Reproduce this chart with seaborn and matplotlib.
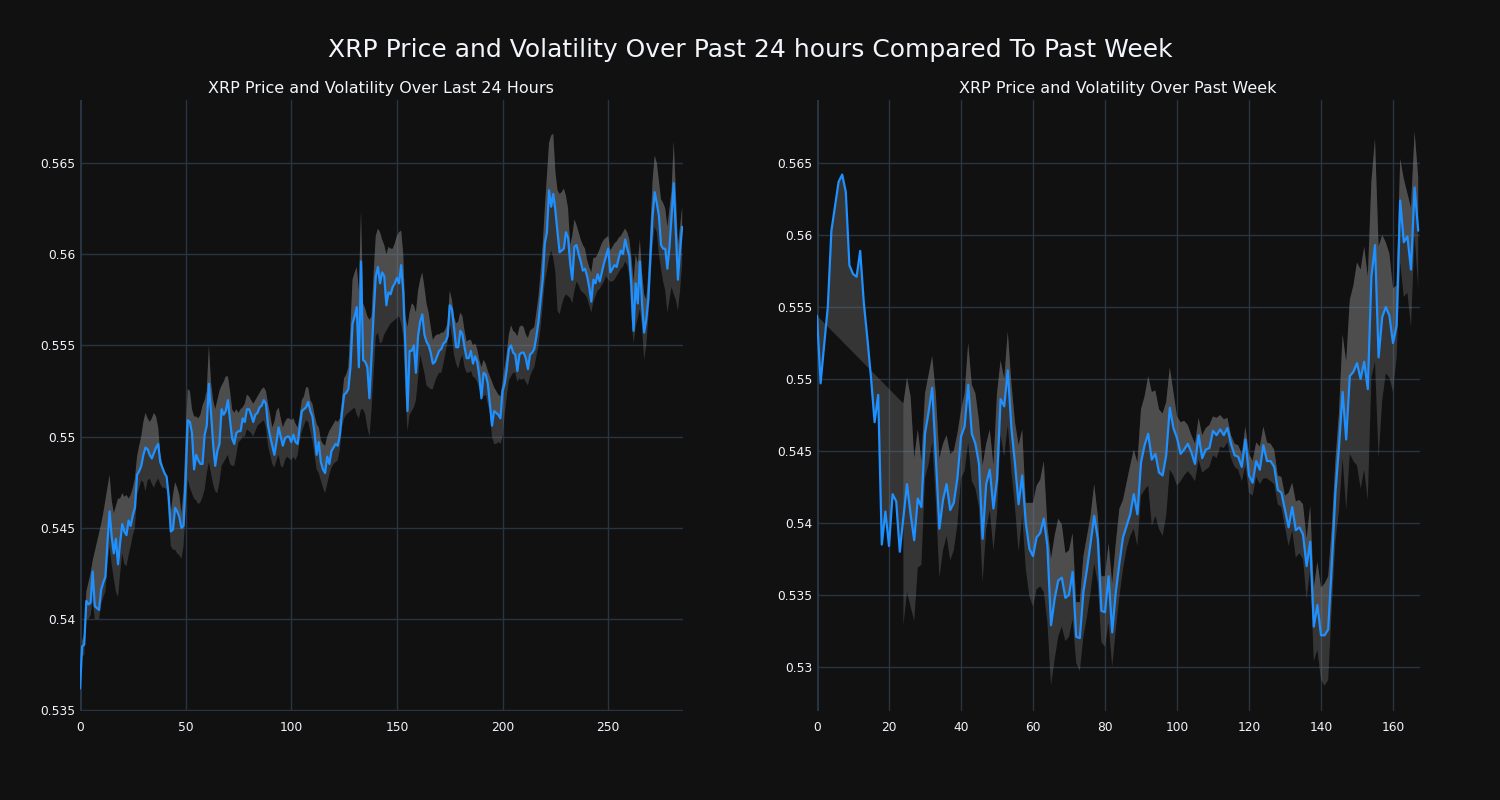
import numpy as np
import pandas as pd
import matplotlib
matplotlib.use("Agg")
import matplotlib.pyplot as plt
import seaborn as sns
from matplotlib.ticker import FuncFormatter

# ---------------- data ----------------
main_title = "XRP Price and Volatility Over Past 24 hours Compared To Past Week"
day_title = "XRP Price and Volatility Over Last 24 Hours"
week_title = "XRP Price and Volatility Over Past Week"

day_price = [
    .5362, .5385, .5386, .5410, .5408, .5409, .5426, .5407, .5406, .5405,
    .5416, .5420, .5423, .5442, .5459, .5445, .5436, .5444, .5430, .5442,
    .5452, .5448, .5446, .5454, .5451, .5457, .5461, .5479, .5481, .5484,
    .5490, .5494, .5493, .5490, .5488, .5491, .5494, .5496, .5486, .5483,
    .5480, .5478, .5467, .5448, .5449, .5461, .5459, .5456, .5450, .5451,
    .5477, .5509, .5508, .5502, .5482, .5490, .5487, .5485, .5485, .5501,
    .5506, .5529, .5513, .5496, .5484, .5492, .5496, .5515, .5512, .5514,
    .5520, .5509, .5499, .5496, .5502, .5503, .5503, .5510, .5508, .5515,
    .5515, .5512, .5508, .5512, .5513, .5516, .5517, .5520, .5518, .5506,
    .5500, .5495, .5490, .5497, .5505, .5500, .5495, .5499, .5500, .5500,
    .5497, .5501, .5497, .5496, .5505, .5514, .5515, .5516, .5519, .5514,
    .5511, .5502, .5490, .5497, .5486, .5482, .5480, .5489, .5485, .5492,
    .5494, .5496, .5495, .5501, .5513, .5523, .5524, .5526, .5538, .5562,
    .5566, .5571, .5538, .5596, .5542, .5541, .5538, .5521, .5545, .5568,
    .5588, .5593, .5584, .5590, .5588, .5572, .5579, .5578, .5582, .5584,
    .5587, .5584, .5594, .5579, .5549, .5514, .5547, .5547, .5550, .5535,
    .5555, .5563, .5567, .5556, .5552, .5550, .5546, .5540, .5541, .5544,
    .5547, .5548, .5551, .5552, .5555, .5572, .5570, .5560, .5549, .5549,
    .5558, .5556, .5549, .5543, .5543, .5547, .5540, .5544, .5541, .5533,
    .5521, .5535, .5534, .5529, .5518, .5506, .5514, .5513, .5512, .5510,
    .5525, .5529, .5537, .5548, .5550, .5546, .5545, .5536, .5545, .5546,
    .5546, .5543, .5537, .5545, .5546, .5548, .5555, .5563, .5575, .5586,
    .5606, .5612, .5635, .5626, .5633, .5624, .5612, .5601, .5602, .5603,
    .5612, .5609, .5595, .5586, .5604, .5605, .5600, .5596, .5591, .5592,
    .5588, .5582, .5574, .5586, .5584, .5589, .5585, .5590, .5595, .5599,
    .5603, .5590, .5592, .5594, .5593, .5598, .5602, .5600, .5608, .5603,
    .5599, .5582, .5558, .5584, .5573, .5596, .5573, .5557, .5564, .5575,
    .5599, .5621, .5634, .5628, .5621, .5605, .5603, .5603, .5592, .5604,
    .5621, .5639, .5613, .5586, .5602, .5615,
]

day_upper = [
    .5364, .5388, .5392, .5415, .5420, .5425, .5432, .5437, .5442, .5447,
    .5452, .5458, .5465, .5472, .5479, .5465, .5458, .5462, .5466, .5466,
    .5469, .5467, .5468, .5466, .5468, .5472, .5477, .5489, .5495, .5500,
    .5508, .5513, .5510, .5508, .5510, .5513, .5511, .5505, .5490, .5485,
    .5480, .5475, .5470, .5458, .5468, .5475, .5472, .5468, .5458, .5470,
    .5500, .5526, .5525, .5515, .5511, .5511, .5510, .5512, .5517, .5520,
    .5525, .5550, .5530, .5520, .5515, .5520, .5525, .5528, .5530, .5533,
    .5533, .5525, .5515, .5513, .5515, .5513, .5515, .5516, .5518, .5523,
    .5522, .5520, .5518, .5520, .5522, .5524, .5526, .5527, .5525, .5518,
    .5512, .5505, .5508, .5514, .5516, .5510, .5505, .5508, .5510, .5510,
    .5509, .5510, .5507, .5505, .5512, .5520, .5522, .5527, .5527, .5520,
    .5518, .5512, .5507, .5505, .5498, .5496, .5495, .5500, .5503, .5505,
    .5507, .5509, .5508, .5510, .5520, .5532, .5534, .5538, .5560, .5586,
    .5590, .5593, .5580, .5624, .5573, .5570, .5566, .5564, .5566, .5590,
    .5610, .5614, .5612, .5608, .5605, .5600, .5604, .5603, .5603, .5606,
    .5610, .5612, .5613, .5600, .5566, .5560, .5568, .5573, .5572, .5568,
    .5580, .5586, .5590, .5582, .5573, .5568, .5560, .5553, .5555, .5556,
    .5556, .5557, .5557, .5559, .5562, .5580, .5575, .5566, .5562, .5563,
    .5568, .5566, .5558, .5552, .5553, .5553, .5550, .5551, .5548, .5542,
    .5538, .5542, .5540, .5536, .5533, .5530, .5527, .5525, .5523, .5522,
    .5530, .5538, .5546, .5556, .5561, .5558, .5557, .5555, .5560, .5561,
    .5560, .5556, .5554, .5558, .5559, .5560, .5568, .5577, .5590, .5605,
    .5625, .5643, .5661, .5665, .5666, .5645, .5635, .5633, .5634, .5636,
    .5632, .5625, .5605, .5610, .5619, .5616, .5612, .5608, .5605, .5603,
    .5597, .5593, .5590, .5598, .5598, .5600, .5603, .5606, .5608, .5609,
    .5610, .5602, .5604, .5606, .5607, .5609, .5610, .5612, .5614, .5612,
    .5608, .5598, .5585, .5600, .5595, .5608, .5590, .5578, .5575, .5590,
    .5615, .5640, .5654, .5650, .5640, .5630, .5628, .5625, .5615, .5625,
    .5635, .5662, .5635, .5605, .5615, .5626,
]

day_lower = [
    .5360, .5380, .5380, .5400, .5400, .5402, .5410, .5400, .5400, .5400,
    .5408, .5412, .5415, .5430, .5440, .5430, .5422, .5415, .5412, .5425,
    .5436, .5430, .5429, .5435, .5440, .5446, .5450, .5468, .5472, .5476,
    .5475, .5470, .5476, .5477, .5474, .5472, .5475, .5477, .5474, .5472,
    .5472, .5471, .5455, .5440, .5438, .5438, .5436, .5435, .5433, .5440,
    .5460, .5477, .5472, .5469, .5466, .5465, .5463, .5464, .5467, .5471,
    .5480, .5486, .5480, .5474, .5470, .5469, .5475, .5484, .5486, .5488,
    .5490, .5485, .5484, .5484, .5490, .5497, .5498, .5500, .5500, .5504,
    .5503, .5502, .5500, .5503, .5506, .5507, .5508, .5509, .5505, .5495,
    .5490, .5485, .5483, .5487, .5490, .5484, .5483, .5487, .5489, .5488,
    .5487, .5489, .5487, .5490, .5498, .5503, .5506, .5509, .5508, .5503,
    .5498, .5490, .5482, .5480, .5476, .5472, .5469, .5474, .5479, .5483,
    .5485, .5486, .5487, .5493, .5505, .5510, .5512, .5513, .5514, .5515,
    .5516, .5512, .5510, .5515, .5515, .5512, .5505, .5500, .5515, .5535,
    .5555, .5557, .5551, .5552, .5556, .5558, .5560, .5562, .5563, .5564,
    .5565, .5566, .5562, .5555, .5524, .5503, .5512, .5514, .5516, .5520,
    .5532, .5545, .5540, .5535, .5528, .5527, .5526, .5526, .5530, .5533,
    .5535, .5535, .5540, .5546, .5552, .5562, .5555, .5545, .5540, .5537,
    .5542, .5545, .5538, .5535, .5535, .5536, .5533, .5532, .5530, .5526,
    .5522, .5522, .5523, .5518, .5513, .5500, .5496, .5496, .5497, .5496,
    .5500, .5512, .5522, .5531, .5533, .5535, .5535, .5530, .5532, .5531,
    .5532, .5530, .5528, .5533, .5536, .5538, .5544, .5550, .5560, .5572,
    .5585, .5591, .5598, .5602, .5598, .5590, .5569, .5567, .5572, .5576,
    .5578, .5577, .5576, .5573, .5580, .5585, .5583, .5580, .5579, .5578,
    .5576, .5572, .5568, .5574, .5577, .5580, .5581, .5583, .5585, .5588,
    .5586, .5585, .5585, .5586, .5588, .5590, .5592, .5593, .5596, .5594,
    .5588, .5565, .5551, .5560, .5565, .5570, .5560, .5542, .5550, .5565,
    .5588, .5605, .5615, .5612, .5600, .5592, .5585, .5580, .5568, .5575,
    .5582, .5578, .5575, .5569, .5580, .5595,
]

week_price = [
    .5544, .5497, .5524, .5550, .5603, .5620, .5637, .5642, .5630, .5579,
    .5573, .5571, .5589, .5553, .5528, .5501, .5470, .5489, .5385, .5408,
    .5384, .5420, .5415, .5380, .5404, .5427, .5406, .5388, .5417, .5411,
    .5462, .5477, .5494, .5446, .5396, .5416, .5427, .5409, .5414, .5431,
    .5460, .5467, .5496, .5462, .5455, .5441, .5389, .5427, .5437, .5410,
    .5430, .5486, .5481, .5506, .5466, .5441, .5413, .5433, .5400, .5382,
    .5377, .5390, .5393, .5403, .5384, .5329, .5347, .5360, .5362, .5348,
    .5350, .5366, .5321, .5320, .5352, .5368, .5386, .5405, .5389, .5339,
    .5338, .5363, .5324, .5352, .5372, .5390, .5398, .5406, .5420, .5406,
    .5442, .5454, .5462, .5444, .5448, .5435, .5433, .5447, .5480, .5466,
    .5459, .5448, .5451, .5455, .5449, .5441, .5461, .5445, .5451, .5452,
    .5464, .5461, .5465, .5461, .5466, .5455, .5447, .5446, .5439, .5458,
    .5433, .5428, .5443, .5437, .5454, .5443, .5443, .5439, .5423, .5421,
    .5409, .5397, .5411, .5395, .5397, .5392, .5370, .5387, .5328, .5343,
    .5322, .5322, .5326, .5371, .5421, .5453, .5491, .5458, .5502, .5505,
    .5511, .5500, .5512, .5493, .5571, .5593, .5515, .5543, .5550, .5544,
    .5525, .5537, .5624, .5595, .5599, .5576, .5633, .5603,
]

# rolling band of the week chart only exists from hour 24 on
week_upper = [np.nan] * 24 + [
    .5483, .5501, .5488, .5445, .5465, .5443,
    .5490, .5503, .5516, .5490, .5445, .5455, .5461, .5448, .5450, .5462,
    .5478, .5490, .5525, .5496, .5490, .5471, .5440, .5455, .5465, .5440,
    .5490, .5513, .5500, .5533, .5497, .5470, .5454, .5465, .5414, .5414,
    .5414, .5426, .5430, .5443, .5398, .5375, .5391, .5403, .5399, .5379,
    .5381, .5393, .5345, .5345, .5377, .5391, .5405, .5427, .5405, .5363,
    .5363, .5386, .5358, .5386, .5410, .5416, .5428, .5440, .5451, .5442,
    .5479, .5488, .5502, .5491, .5492, .5479, .5476, .5484, .5508, .5491,
    .5474, .5470, .5471, .5468, .5461, .5455, .5473, .5461, .5466, .5468,
    .5474, .5473, .5475, .5472, .5473, .5461, .5455, .5454, .5448, .5467,
    .5448, .5443, .5456, .5453, .5467, .5456, .5455, .5451, .5433, .5432,
    .5419, .5421, .5428, .5415, .5416, .5413, .5389, .5412, .5355, .5373,
    .5355, .5358, .5363, .5397, .5443, .5477, .5531, .5512, .5555, .5565,
    .5581, .5576, .5592, .5571, .5637, .5667, .5592, .5600, .5595, .5587,
    .5563, .5565, .5653, .5639, .5629, .5619, .5672, .5640,
]

week_lower = [np.nan] * 24 + [
    .5329, .5352, .5342, .5332, .5369, .5371,
    .5431, .5441, .5456, .5416, .5362, .5381, .5391, .5374, .5381, .5399,
    .5431, .5436, .5456, .5429, .5424, .5411, .5359, .5396, .5409, .5381,
    .5406, .5461, .5446, .5468, .5436, .5411, .5380, .5405, .5368, .5349,
    .5342, .5354, .5356, .5352, .5331, .5287, .5305, .5321, .5328, .5318,
    .5321, .5333, .5303, .5297, .5321, .5335, .5352, .5372, .5358, .5317,
    .5314, .5331, .5300, .5326, .5349, .5368, .5382, .5391, .5396, .5384,
    .5419, .5423, .5426, .5398, .5405, .5396, .5391, .5405, .5437, .5433,
    .5426, .5429, .5433, .5436, .5433, .5429, .5444, .5435, .5437, .5439,
    .5447, .5445, .5453, .5452, .5456, .5445, .5439, .5437, .5429, .5440,
    .5421, .5419, .5432, .5427, .5431, .5431, .5429, .5427, .5413, .5411,
    .5397, .5384, .5395, .5376, .5379, .5375, .5347, .5368, .5304, .5312,
    .5291, .5287, .5291, .5342, .5387, .5409, .5445, .5409, .5448, .5443,
    .5440, .5424, .5437, .5416, .5501, .5512, .5445, .5485, .5504, .5501,
    .5491, .5515, .5581, .5557, .5560, .5536, .5600, .5563,
]

day_xticks = [0, 50, 100, 150, 200, 250]
day_yticks = [0.535, 0.54, 0.545, 0.55, 0.555, 0.56, 0.565]
week_xticks = [0, 20, 40, 60, 80, 100, 120, 140, 160]
week_yticks = [0.53, 0.535, 0.54, 0.545, 0.55, 0.555, 0.56, 0.565]

# ---------------- style ----------------
BG = "#111111"
GRID = "#283442"
TXT = "#f2f5fa"
LINE = "#1E90FF"
BAND = "#808080"

sns.set_theme(style="dark")
plt.rcParams["font.family"] = ["DejaVu Sans"]

fig = plt.figure(figsize=(15, 8), dpi=100, facecolor=BG)
ax1 = fig.add_axes([80 / 1500, 89 / 800, 603 / 1500, 611 / 800])
ax2 = fig.add_axes([817 / 1500, 89 / 800, 603 / 1500, 611 / 800])


def fmt(v, _):
    return f"{v:.3f}".rstrip("0")


def draw(ax, price, upper, lower, xticks, yticks, xlim, ylim):
    price = np.asarray(price, dtype=float)
    upper = np.asarray(upper, dtype=float)
    lower = np.asarray(lower, dtype=float)
    x = np.arange(len(price))
    ok = ~np.isnan(upper)
    xv, uv, lv = x[ok], upper[ok], lower[ok]
    # upper band filled to the price line, lower band filled to the upper band
    ax.fill(np.r_[xv, x[::-1]], np.r_[uv, price[::-1]],
            color=BAND, alpha=0.33, lw=0, zorder=2)
    ax.fill(np.r_[xv, xv[::-1]], np.r_[lv, uv[::-1]],
            color=BAND, alpha=0.33, lw=0, zorder=2)
    df = pd.DataFrame({"x": x, "price": price})
    sns.lineplot(data=df, x="x", y="price", ax=ax, color=LINE,
                 linewidth=1.6, zorder=3)
    ax.set_facecolor(BG)
    ax.set_xlim(*xlim)
    ax.set_ylim(*ylim)
    ax.set_xticks(xticks)
    ax.set_yticks(yticks)
    ax.yaxis.set_major_formatter(FuncFormatter(fmt))
    ax.grid(True, color=GRID, linewidth=1)
    ax.set_axisbelow(True)
    ax.axvline(0, color=GRID, linewidth=2.2, zorder=1)
    for s in ax.spines.values():
        s.set_visible(False)
    ax.tick_params(axis="both", length=0, labelsize=8.8, colors=TXT)
    ax.tick_params(axis="y", pad=3)
    ax.tick_params(axis="x", pad=7)
    ax.set_xlabel("")
    ax.set_ylabel("")


draw(ax1, day_price, day_upper, day_lower, day_xticks, day_yticks,
     (0, 285.4), (0.53496, 0.56845))
draw(ax2, week_price, week_upper, week_lower, week_xticks, week_yticks,
     (0, 167.5), (0.52694, 0.56938))

fig.text(0.5, 1 - 50 / 800, main_title, ha="center", va="center",
         fontsize=18, color=TXT)
fig.text(381 / 1500, 1 - 89 / 800, day_title, ha="center", va="center",
         fontsize=11.5, color=TXT)
fig.text(1118 / 1500, 1 - 89 / 800, week_title, ha="center", va="center",
         fontsize=11.5, color=TXT)

fig.savefig("out.png", dpi=100, facecolor=BG)
